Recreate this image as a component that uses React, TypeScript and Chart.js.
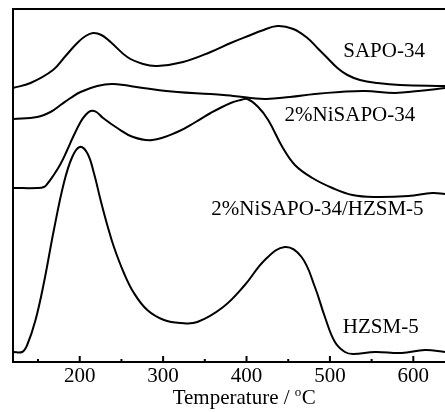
import React, { useEffect, useRef } from 'react';
import { Chart, registerables } from 'chart.js';

Chart.register(...registerables);

// ---- Data ----
const sapoTemps = [120, 141, 168, 183, 197, 207, 216, 226, 237, 257, 276, 293, 324, 357, 381, 405, 417, 437, 456, 473, 485, 497, 509, 521, 536, 557, 584, 638];
const sapoValues = [274, 279, 292, 306, 319, 326, 329, 327, 320, 305, 298, 296, 300, 310, 319, 327, 331, 336, 333, 324, 314, 304, 294, 287, 282, 279, 277, 276];

const niTemps = [120, 149, 165, 177, 189, 201, 221, 240, 276, 317, 357, 384, 422, 452, 482, 512, 542, 578, 606, 638];
const niValues = [243, 245, 250, 257, 264, 270, 276, 278, 274, 270, 268, 266, 263, 265, 268, 270, 271, 269, 271, 274];

const niHzTemps = [120, 150, 157, 161, 168, 177, 185, 192, 201, 207, 213, 220, 228, 245, 264, 287, 317, 339, 357, 381, 393, 401, 414, 426, 443, 458, 479, 503, 527, 554, 594, 623, 638];
const niHzValues = [174, 174, 175, 178, 186, 198, 212, 225, 240, 247, 251, 250, 244, 234, 225, 222, 230, 240, 249, 259, 262, 263, 255, 242, 215, 197, 184, 174, 167, 165, 166, 169, 168];

const hzTemps = [120, 131, 137, 147, 157, 169, 181, 191, 200, 209, 217, 225, 233, 241, 253, 265, 281, 301, 321, 341, 372, 398, 422, 446, 466, 482, 494, 506, 518, 528, 554, 586, 614, 638];
const hzValues = [10, 10, 17, 42, 79, 132, 179, 205, 215, 209, 189, 162, 137, 115, 89, 69, 52, 42, 39, 40, 55, 77, 102, 115, 105, 75, 45, 20, 10, 8, 10, 9, 12, 10];

const seriesNames = ['SAPO-34', '2%NiSAPO-34', '2%NiSAPO-34/HZSM-5', 'HZSM-5'];

const xTickValues = [150, 200, 250, 300, 350, 400, 450, 500, 550, 600];
const xTickLabels = ['', '200', '', '300', '', '400', '', '500', '', '600'];

const titleMain = 'Temperature / ';
const titleSup = 'o';
const titleUnit = 'C';

const FONT = '"Liberation Serif", "Times New Roman", serif';

function toPoints(xs: number[], ys: number[]) {
  return xs.map((x, i) => ({ x, y: ys[i] }));
}

export default function App() {
  const ref = useRef<HTMLCanvasElement>(null);

  useEffect(() => {
    if (!ref.current) return;
    const labelPos = [
      { x: 565, y: 311 },
      { x: 524, y: 247 },
      { x: 485, y: 153 },
      { x: 561, y: 35 },
    ];

    const framePlugin = {
      id: 'frame',
      afterDraw(chart: any) {
        const { ctx, chartArea: a, scales } = chart;
        const xs = scales.x;
        const ys = scales.y;
        ctx.save();
        ctx.strokeStyle = '#000';
        ctx.lineWidth = 2;
        ctx.lineCap = 'square';
        ctx.beginPath();
        ctx.moveTo(a.left, a.top);
        ctx.lineTo(a.right, a.top);
        ctx.moveTo(a.left, a.top);
        ctx.lineTo(a.left, a.bottom);
        ctx.lineTo(a.right, a.bottom);
        ctx.stroke();
        ctx.lineCap = 'butt';
        xs.ticks.forEach((t: any) => {
          const px = xs.getPixelForValue(t.value);
          const major = t.value % 100 === 0;
          ctx.beginPath();
          ctx.moveTo(px, a.bottom);
          ctx.lineTo(px, a.bottom - (major ? 6 : 3));
          ctx.stroke();
        });
        ctx.fillStyle = '#000';
        ctx.font = `21px ${FONT}`;
        ctx.textAlign = 'center';
        ctx.textBaseline = 'middle';
        seriesNames.forEach((n, i) => {
          ctx.fillText(n, xs.getPixelForValue(labelPos[i].x), ys.getPixelForValue(labelPos[i].y));
        });
        // axis title with superscript o
        ctx.textAlign = 'left';
        ctx.textBaseline = 'alphabetic';
        ctx.font = `21px ${FONT}`;
        const w1 = ctx.measureText(titleMain).width;
        const w3 = ctx.measureText(titleUnit).width;
        ctx.font = `13px ${FONT}`;
        const w2 = ctx.measureText(titleSup).width;
        const cx = xs.getPixelForValue(397);
        const base = a.bottom + 42;
        const x0 = cx - (w1 + w2 + w3) / 2;
        ctx.font = `21px ${FONT}`;
        ctx.fillText(titleMain, x0, base);
        ctx.font = `13px ${FONT}`;
        ctx.fillText(titleSup, x0 + w1, base - 8);
        ctx.font = `21px ${FONT}`;
        ctx.fillText(titleUnit, x0 + w1 + w2 + 0.5, base);
        ctx.restore();
      },
    };

    const mk = (xs: number[], ys: number[], label: string) => ({
      label,
      data: toPoints(xs, ys),
      borderColor: '#000',
      borderWidth: 2,
      pointRadius: 0,
      fill: false,
      tension: 0.4,
    });

    const chart = new Chart(ref.current, {
      type: 'line',
      data: {
        datasets: [
          mk(sapoTemps, sapoValues, seriesNames[0]),
          mk(niTemps, niValues, seriesNames[1]),
          mk(niHzTemps, niHzValues, seriesNames[2]),
          mk(hzTemps, hzValues, seriesNames[3]),
        ],
      },
      options: {
        animation: false,
        responsive: false,
        layout: { padding: { left: 13, top: 9, right: 0, bottom: 20.8 } },
        plugins: { legend: { display: false }, tooltip: { enabled: false } },
        scales: {
          x: {
            type: 'linear',
            min: 120,
            max: 638,
            afterBuildTicks: (axis: any) => {
              axis.ticks = xTickValues.map((v) => ({ value: v }));
            },
            grid: { display: false, drawTicks: false },
            border: { display: false },
            ticks: {
              autoSkip: false,
              maxRotation: 0,
              padding: 2,
              color: '#000',
              font: { family: FONT, size: 21 },
              callback: (v: any) => {
                const i = xTickValues.indexOf(Number(v));
                return i >= 0 ? xTickLabels[i] : '';
              },
            },
          },
          y: { display: false, min: 0, max: 353 },
        },
      },
      plugins: [framePlugin],
    });
    return () => chart.destroy();
  }, []);

  return (
    <div style={{ position: 'absolute', left: 0, top: 0, width: 445, height: 412, background: '#fff' }}>
      <canvas ref={ref} width={445} height={412} style={{ display: 'block' }} />
    </div>
  );
}
